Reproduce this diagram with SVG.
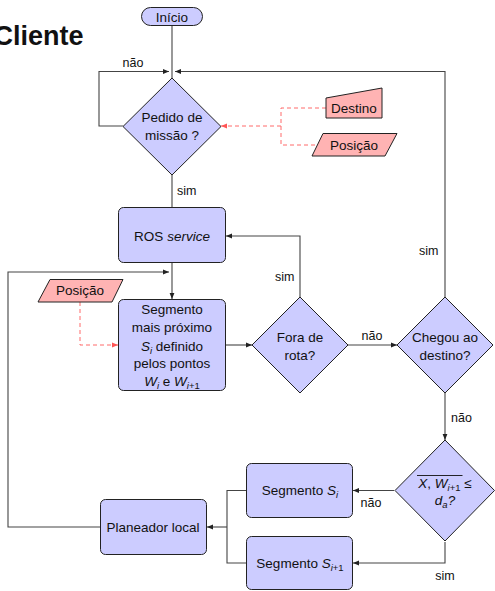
<svg xmlns="http://www.w3.org/2000/svg" width="495" height="591" viewBox="0 0 495 591">
  <defs>
    <marker id="arr" viewBox="0 0 6 6" refX="6" refY="3" markerWidth="6" markerHeight="6" markerUnits="userSpaceOnUse" orient="auto">
      <path d="M0,0.6 L6,3 L0,5.4 z" fill="#222"/>
    </marker>
    <marker id="arrRed" viewBox="0 0 6 6" refX="6" refY="3" markerWidth="6" markerHeight="6" markerUnits="userSpaceOnUse" orient="auto">
      <path d="M0,0.6 L6,3 L0,5.4 z" fill="#ff5555"/>
    </marker>
  </defs>
  <style>
    text { font-family: "Liberation Sans", Arial, Helvetica, sans-serif; font-size: 13.5px; fill: #111; }
    .mid { text-anchor: middle; }
    .proc { fill: #ccccff; stroke: #222; stroke-width: 1; }
    .io { fill: #ffb3b3; stroke: #222; stroke-width: 1; }
    .flow { fill: none; stroke: #444; stroke-width: 1.1; }
    .data { fill: none; stroke: #ff6b6b; stroke-width: 1; stroke-dasharray: 4 3; }
    .lbl { font-size: 12.5px; }
    .it { font-style: italic; }
    .sub { font-size: 9.5px; }
  </style>

  <rect width="495" height="591" fill="#ffffff"/>

  <text x="83.5" y="44.5" style="font-size:27px;font-weight:bold;text-anchor:end">Cliente</text>

  <!-- connectors -->
  <g id="connectors">
    <!-- start to first decision -->
    <path class="flow" d="M172,26 V78"/>
    <!-- "não" loop -->
    <path class="flow" d="M123,126 H99 V71.5 H169" marker-end="url(#arr)"/>
    <!-- return from "Chegou ao destino?" -->
    <path class="flow" d="M445,297 V71.5 H175" marker-end="url(#arr)"/>
    <!-- sim to ROS service -->
    <path class="flow" d="M172,175 V207"/>
    <!-- ROS service to segment -->
    <path class="flow" d="M172,263 V299" marker-end="url(#arr)"/>
    <!-- local planner loop back -->
    <path class="flow" d="M100,527 H8 V272 H169" marker-end="url(#arr)"/>
    <!-- segment to "Fora de rota?" -->
    <path class="flow" d="M226,345 H252" marker-end="url(#arr)"/>
    <!-- "Fora de rota?" sim back to ROS service -->
    <path class="flow" d="M300,297 V236 H226" marker-end="url(#arr)"/>
    <!-- não to "Chegou ao destino?" -->
    <path class="flow" d="M348,345 H397" marker-end="url(#arr)"/>
    <!-- não down to distance check -->
    <path class="flow" d="M445,393 V440" marker-end="url(#arr)"/>
    <!-- distance check branches -->
    <path class="flow" d="M394,490.5 H353" marker-end="url(#arr)"/>
    <path class="flow" d="M445,542 V563 H353" marker-end="url(#arr)"/>
    <!-- segments to local planner -->
    <path class="flow" d="M246,490.5 H227 V563 H246"/>
    <path class="flow" d="M227,527 H207" marker-end="url(#arr)"/>

    <!-- data inputs -->
    <path class="data" d="M326,108 H281 V145 H315"/>
    <path class="data" d="M281,126 H221" marker-end="url(#arrRed)"/>
    <path class="data" d="M80,302 V345 H118" marker-end="url(#arrRed)"/>

    <!-- branch labels -->
    <text class="lbl mid" x="133" y="67">não</text>
    <text class="lbl" x="177" y="195">sim</text>
    <text class="lbl" x="275" y="281">sim</text>
    <text class="lbl mid" x="372" y="340">não</text>
    <text class="lbl" x="419" y="255">sim</text>
    <text class="lbl" x="451" y="422">não</text>
    <text class="lbl mid" x="371" y="507">não</text>
    <text class="lbl mid" x="445" y="580">sim</text>
  </g>

  <g id="inicio">
    <rect class="proc" x="141.5" y="7.5" width="61" height="18" rx="9"/>
    <text class="mid" x="172" y="21.5">Início</text>
  </g>

  <g id="pedido">
    <polygon class="proc" points="172,78 221,126.5 172,175 123,126.5"/>
    <text class="mid" x="172" y="121.5">Pedido de</text>
    <text class="mid" x="172" y="139.5">missão ?</text>
  </g>

  <g id="destino">
    <polygon class="io" points="326,98 382,88 382,118 326,118"/>
    <text class="mid" x="354" y="113">Destino</text>
  </g>

  <g id="posicao-destino">
    <polygon class="io" points="323,133.5 397,133.5 385,156 312,156"/>
    <text class="mid" x="354" y="149.5">Posição</text>
  </g>

  <g id="ros">
    <rect class="proc" x="118.5" y="207.5" width="107" height="55" rx="5"/>
    <text class="mid" x="172" y="240.5">ROS <tspan class="it">service</tspan></text>
  </g>

  <g id="posicao-segmento">
    <polygon class="io" points="50,279.5 123,279.5 112,302 38,302"/>
    <text class="mid" x="80" y="295">Posição</text>
  </g>

  <g id="segmento">
    <rect class="proc" x="118.5" y="299.5" width="107" height="91" rx="5"/>
    <text class="mid" x="172" y="314">Segmento</text>
    <text class="mid" x="172" y="332">mais próximo</text>
    <text class="mid" x="172" y="350.5"><tspan class="it">S</tspan><tspan class="sub it" dy="3">i</tspan><tspan dy="-3"> definido</tspan></text>
    <text class="mid" x="172" y="368">pelos pontos</text>
    <text class="mid" x="172" y="386"><tspan class="it">W</tspan><tspan class="sub it" dy="3">i</tspan><tspan dy="-3"> e </tspan><tspan class="it">W</tspan><tspan class="sub" dy="3"><tspan class="it">i</tspan>+1</tspan></text>
  </g>

  <g id="fora-de-rota">
    <polygon class="proc" points="300,297 348,345 300,393 252,345"/>
    <text class="mid" x="300" y="341.5">Fora de</text>
    <text class="mid" x="300" y="359.5">rota?</text>
  </g>

  <g id="chegou">
    <polygon class="proc" points="445,297 493,345 445,393 397,345"/>
    <text class="mid" x="445" y="341.5">Chegou ao</text>
    <text class="mid" x="445" y="359.5">destino?</text>
  </g>

  <g id="distancia">
    <polygon class="proc" points="445,440 494.5,490.5 445,541 395,490.5"/>
    <line x1="417" y1="475.5" x2="462.5" y2="475.5" stroke="#111" stroke-width="0.9"/>
    <text class="mid" x="445" y="488"><tspan class="it">X</tspan>, <tspan class="it">W</tspan><tspan class="sub" dy="3"><tspan class="it">i</tspan>+1</tspan><tspan dy="-3"> ≤</tspan></text>
    <text class="mid" x="445" y="505"><tspan class="it">d</tspan><tspan class="sub it" dy="3">a</tspan><tspan class="it" dy="-3">?</tspan></text>
  </g>

  <g id="segmento-si">
    <rect class="proc" x="246.5" y="463.5" width="106" height="54" rx="5"/>
    <text class="mid" x="300" y="495">Segmento <tspan class="it">S</tspan><tspan class="sub it" dy="3">i</tspan></text>
  </g>

  <g id="segmento-si1">
    <rect class="proc" x="246.5" y="536.5" width="106" height="53" rx="5"/>
    <text class="mid" x="300" y="567.5">Segmento <tspan class="it">S</tspan><tspan class="sub" dy="3"><tspan class="it">i</tspan>+1</tspan></text>
  </g>

  <g id="planeador">
    <rect class="proc" x="100.5" y="499.5" width="106" height="55" rx="5"/>
    <text class="mid" x="153" y="531.5">Planeador local</text>
  </g>
</svg>
